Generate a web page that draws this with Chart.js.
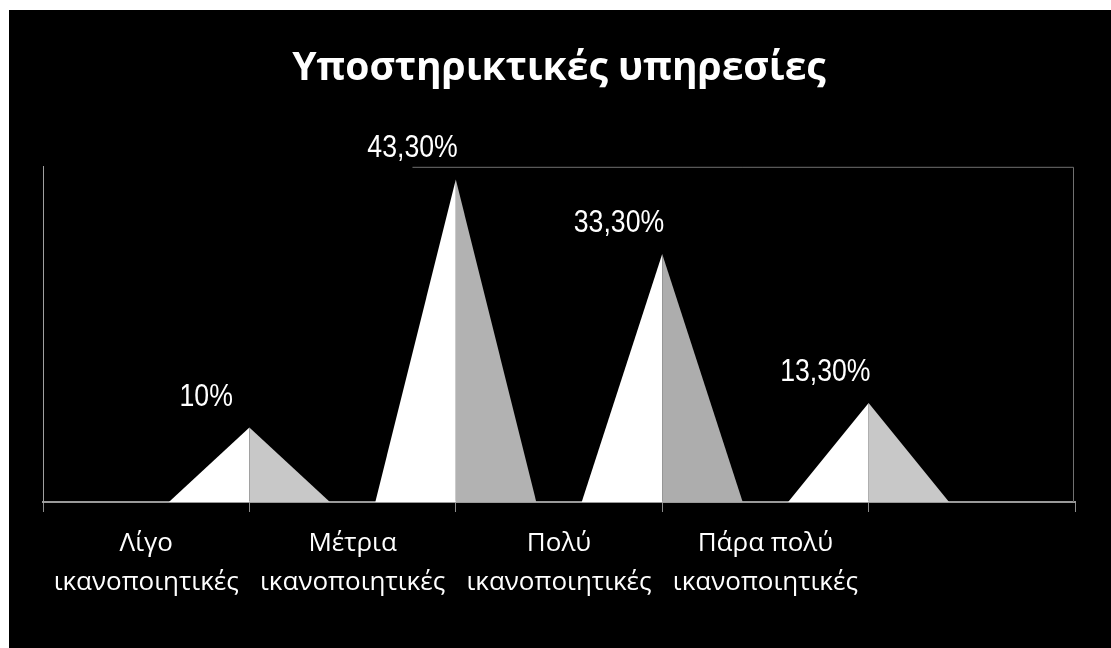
<!DOCTYPE html>
<html>
<head>
<meta charset="utf-8">
<script src="https://cdn.jsdelivr.net/npm/chart.js@4"></script>
<style>
  body { margin: 0; background: #fff; }
  #box { position: absolute; left: 9px; top: 10px; width: 1102px; height: 638px; background: #000; }
</style>
</head>
<body>
<div id="box"><canvas id="myChart" width="1102" height="638"></canvas></div>
<script>
const categories = [['Λίγο', 'ικανοποιητικές'], ['Μέτρια', 'ικανοποιητικές'], ['Πολύ', 'ικανοποιητικές'], ['Πάρα πολύ', 'ικανοποιητικές']];
const percentages = [10, 43.3, 33.3, 13.3];
const valueLabels = ['10%', '43,30%', '33,30%', '13,30%'];
const rightShades = ['#c8c8c8', '#b2b2b2', '#adadad', '#c8c8c8'];

// pyramids sit on the slot boundaries, so they get their own axis with one extra point each side
const peakSlots = ['', ...percentages.map(() => ''), ''];
const peakData = [null, ...percentages, null];

// draws each bar as a two-tone pyramid plus its value label
const pyramids = {
  id: 'pyramids',
  afterDatasetsDraw(chart) {
    const ctx = chart.ctx;
    const meta = chart.getDatasetMeta(0);
    ctx.save();
    meta.data.forEach((bar, i) => {
      if (peakData[i] == null) return;
      const k = i - 1;
      const half = bar.width / 2;
      ctx.fillStyle = '#ffffff';
      ctx.beginPath();
      ctx.moveTo(bar.x - half, bar.base);
      ctx.lineTo(bar.x, bar.y);
      ctx.lineTo(bar.x, bar.base);
      ctx.closePath();
      ctx.fill();
      ctx.fillStyle = rightShades[k];
      ctx.beginPath();
      ctx.moveTo(bar.x, bar.y);
      ctx.lineTo(bar.x + half, bar.base);
      ctx.lineTo(bar.x, bar.base);
      ctx.closePath();
      ctx.fill();

      // narrow-looking label: squeeze Liberation Sans horizontally
      ctx.save();
      ctx.translate(bar.x - half / 2 - 3, bar.y - 22);
      ctx.scale(0.86, 1);
      ctx.fillStyle = '#ffffff';
      ctx.font = '31px "Liberation Sans", Arial, sans-serif';
      ctx.textAlign = 'center';
      ctx.textBaseline = 'alphabetic';
      ctx.fillText(valueLabels[k], 0, 0);
      ctx.restore();
    });
    ctx.restore();
  },
  afterDraw(chart) {
    const {ctx, chartArea} = chart;
    ctx.save();
    ctx.strokeStyle = '#707070';
    ctx.lineWidth = 1;
    ctx.beginPath();
    ctx.moveTo(chartArea.left + chartArea.width * 0.358, chartArea.top + 0.5);
    ctx.lineTo(chartArea.right - 1.5, chartArea.top + 0.5);
    ctx.lineTo(chartArea.right - 1.5, chartArea.bottom);
    ctx.stroke();
    ctx.restore();
  }
};

new Chart(document.getElementById('myChart'), {
  type: 'bar',
  data: {
    labels: peakSlots,
    datasets: [{
      label: 'Υποστηρικτικές υπηρεσίες',
      data: peakData,
      xAxisID: 'xb',
      backgroundColor: 'rgba(0,0,0,0)',
      borderWidth: 0,
      categoryPercentage: 1,
      barPercentage: 0.78
    }]
  },
  plugins: [pyramids],
  options: {
    responsive: false,
    animation: false,
    layout: { padding: { left: 34, right: 36, top: 0, bottom: 34 } },
    plugins: {
      legend: { display: false },
      tooltip: { enabled: false },
      title: {
        display: true,
        text: 'Υποστηρικτικές υπηρεσίες',
        color: '#ffffff',
        font: { family: 'Open Sans', size: 39, weight: 'bold' },
        padding: { top: 35, bottom: 75 }
      }
    },
    scales: {
      x: {
        type: 'category',
        labels: [...categories, ''],
        offset: true,
        grid: {
          display: true,
          offset: true,
          drawOnChartArea: false,
          tickLength: 10,
          color: (c) => c.index === categories.length + 1 ? 'rgba(0,0,0,0)' : '#8c8c8c'
        },
        border: { display: true, color: '#9a9a9a', width: 2 },
        ticks: {
          color: '#ffffff',
          font: { family: 'Open Sans', size: 26, lineHeight: 1.5 },
          padding: 12,
          maxRotation: 0,
          autoSkip: false
        }
      },
      xb: {
        type: 'category',
        position: 'bottom',
        display: false,
        offset: false
      },
      y: {
        min: 0,
        max: 45,
        ticks: { display: false },
        grid: { display: false, drawTicks: false },
        border: { display: true, color: '#a0a0a0', width: 1 }
      }
    }
  }
});
</script>
</body>
</html>
